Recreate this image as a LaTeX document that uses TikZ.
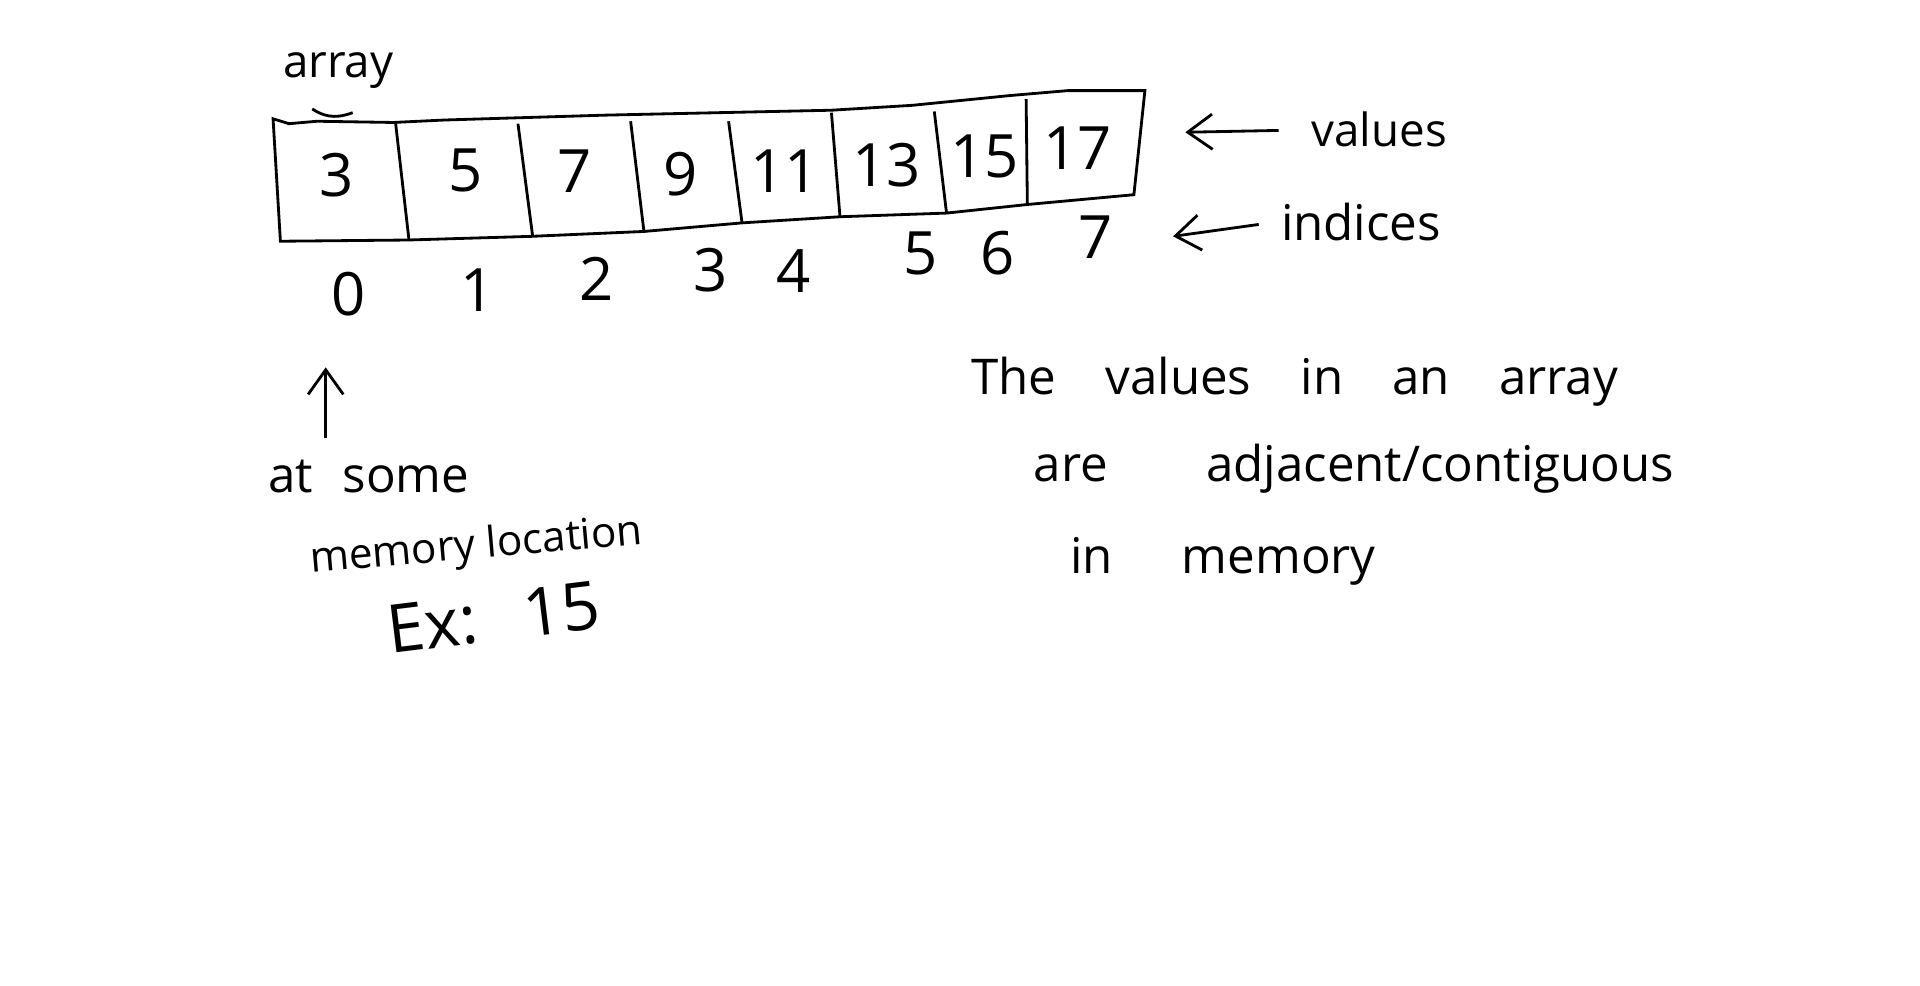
\documentclass[tikz,border=0pt]{standalone}
\usepackage{fontspec}
\setmainfont{Open Sans}
\usetikzlibrary{arrows.meta}

\begin{document}
\begin{tikzpicture}[x=0.012245cm, y=-0.012245cm, line width=0.8pt,
    >={Straight Barb[length=7pt,width=10pt]},
    val/.style={font=\fontsize{17}{19}\selectfont},
    idx/.style={font=\fontsize{17}{19}\selectfont},
    note/.style={font=\fontsize{14}{16}\selectfont, inner sep=0pt, anchor=base west}]

    \useasboundingbox (0,0) rectangle (1568,805);

    % Array
    \draw (223,97) -- (236,101) -- (259,99) -- (321,100) -- (363,98) -- (495,94)
        -- (679,90) -- (745,86) -- (825,78) -- (872,74) -- (935,74)
        -- (926,159) -- (839,167) -- (773,174) -- (686,177) -- (606,182)
        -- (526,189) -- (434,193) -- (333,196) -- (229,197) -- cycle;
    \foreach \xa/\ya/\xb/\yb in {323/100/334/196, 423/101/435/193, 515/99/526/190,
        595/99/606/182, 679/92/686/177, 763/91/773/174, 838/81/839/167}
        \draw (\xa,\ya) -- (\xb,\yb);
    \draw (255,89) .. controls (263,94) and (272,98) .. (288,92);
    \node[note, font=\fontsize{13}{15}\selectfont] (arr) at (230,63) {array};

    % Values
    \foreach \v/\x/\y in {3/275/143, 5/380/139, 7/469/140, 9/556/142,
        11/641/140, 13/724/135, 15/804/128, 17/880/121}
        \node[val] (val\v) at (\x,\y) {\v};

    % Indices
    \foreach \i/\x/\y in {0/285/240, 1/390/237, 2/487/228, 3/580/221,
        4/648/221, 5/752/207, 6/815/207, 7/895/194}
        \node[idx] (idx\i) at (\x,\y) {\i};

    % Labels
    \node[note, font=\fontsize{13}{15}\selectfont] (values) at (1070,120) {values};
    \node[note] (indices) at (1045,196) {indices};
    \coordinate (valtip) at (968,108);
    \coordinate (idxtip) at (958,193);
    \draw[->, shorten <=9pt] (values.west) -- (valtip);
    \draw[->, shorten <=6pt] (indices.west) -- (idxtip);

    % Memory location
    \coordinate (addr) at (266,300);
    \coordinate (addrfoot) at (266,358);
    \draw[->] (addrfoot) -- (addr);
    \node[note] (atsome) at (218,402) {at\hspace{0.6em}some};
    \node[note, font=\fontsize{12}{14}\selectfont, rotate=5] (memloc) at (253,468) {memory location};
    \node[note, font=\fontsize{19}{22}\selectfont, rotate=7] (ex) at (318,534) {Ex:\hspace{0.7em}15};

    % Note
    \node[note] (line1) at (792,322) {The\quad values\quad in\quad an\quad array};
    \node[note] (line2) at (843,393) {are\qquad adjacent/contiguous};
    \node[note] (line3) at (873,468) {in\hspace{1.4em}memory};

\end{tikzpicture}
\end{document}
